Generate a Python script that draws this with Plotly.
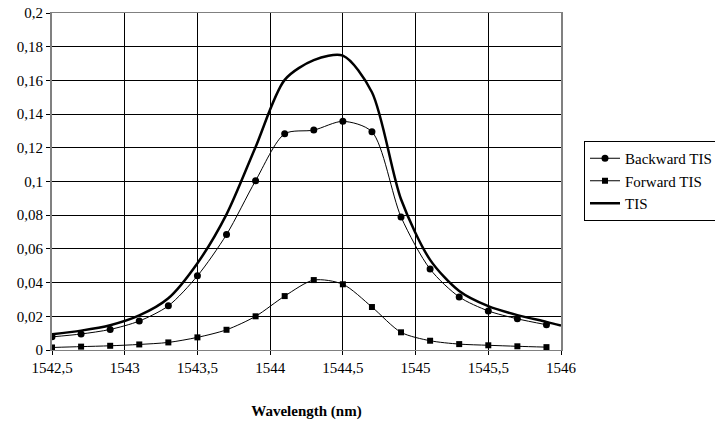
import plotly.graph_objects as go

# Wavelength samples (nm)
wavelength = [1542.5, 1542.7, 1542.9, 1543.1, 1543.3, 1543.5, 1543.7, 1543.9, 1544.1,
              1544.3, 1544.5, 1544.7, 1544.9, 1545.1, 1545.3, 1545.5, 1545.7, 1545.9]

backward_tis = [0.0078, 0.0095, 0.0122, 0.0172, 0.0262, 0.0440, 0.0685, 0.1005, 0.1283,
                0.1305, 0.1357, 0.1295, 0.0790, 0.0480, 0.0315, 0.0232, 0.0185, 0.0150]

forward_tis = [0.0015, 0.0020, 0.0025, 0.0033, 0.0045, 0.0075, 0.0120, 0.0200, 0.0320,
               0.0415, 0.0390, 0.0255, 0.0105, 0.0055, 0.0035, 0.0028, 0.0022, 0.0017]

tis_wavelength = wavelength + [1546.0]
tis_total = [0.0093, 0.0115, 0.0147, 0.0205, 0.0307, 0.0515, 0.0805, 0.1205, 0.1603,
             0.1720, 0.1747, 0.1530, 0.0895, 0.0535, 0.0350, 0.0260, 0.0207, 0.0167, 0.0145]

x_tickvals = [1542.5, 1543, 1543.5, 1544, 1544.5, 1545, 1545.5, 1546]
x_ticktext = ["1542,5", "1543", "1543,5", "1544", "1544,5", "1545", "1545,5", "1546"]
y_tickvals = [0, 0.02, 0.04, 0.06, 0.08, 0.1, 0.12, 0.14, 0.16, 0.18, 0.2]
y_ticktext = ["0", "0,02", "0,04", "0,06", "0,08", "0,1", "0,12", "0,14", "0,16", "0,18", "0,2"]

SERIF = "Times New Roman, Liberation Serif, DejaVu Serif, serif"

fig = go.Figure()
fig.add_trace(go.Scatter(
    x=wavelength, y=backward_tis, name="Backward TIS", mode="lines+markers",
    line=dict(color="black", width=1, shape="spline", smoothing=0.8),
    marker=dict(symbol="circle", size=7, color="black"),
))
fig.add_trace(go.Scatter(
    x=wavelength, y=forward_tis, name="Forward TIS", mode="lines+markers",
    line=dict(color="black", width=1, shape="spline", smoothing=0.8),
    marker=dict(symbol="square", size=6, color="black"),
))
fig.add_trace(go.Scatter(
    x=tis_wavelength, y=tis_total, name="TIS", mode="lines",
    line=dict(color="black", width=2.5, shape="spline", smoothing=0.8),
))

fig.update_layout(
    width=715, height=421,
    margin=dict(l=52, r=154, t=13, b=71, autoexpand=False),
    paper_bgcolor="white", plot_bgcolor="white",
    font=dict(family=SERIF, size=15, color="black"),
    showlegend=True,
    legend=dict(
        x=(584 - 52) / 509, y=(350 - 141) / 337, xanchor="left", yanchor="top",
        bordercolor="black", borderwidth=1, bgcolor="white",
        font=dict(family=SERIF, size=15, color="black"),
        itemwidth=30, tracegroupgap=0,
    ),
    xaxis=dict(
        range=[1542.5, 1546], tickvals=x_tickvals, ticktext=x_ticktext,
        showgrid=True, gridcolor="black", gridwidth=1,
        showline=True, linecolor="#808080", linewidth=1, mirror=True,
        ticks="outside", ticklen=4, tickcolor="black",
        zeroline=False,
        title=dict(text="<b>Wavelength (nm)</b>", font=dict(family=SERIF, size=15), standoff=30),
    ),
    yaxis=dict(
        range=[0, 0.2], tickvals=y_tickvals, ticktext=y_ticktext,
        showgrid=True, gridcolor="black", gridwidth=1,
        showline=True, linecolor="#808080", linewidth=2, mirror=True,
        ticks="outside", ticklen=4, tickcolor="black",
        zeroline=False,
    ),
)

fig.write_html("out.html")
